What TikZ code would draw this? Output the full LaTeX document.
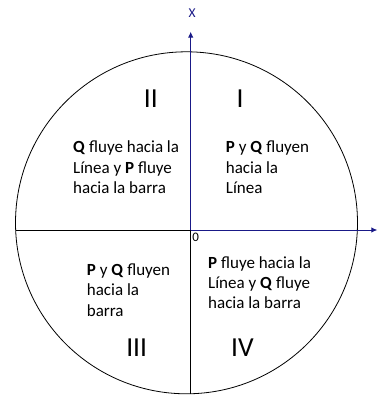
\documentclass[tikz,border=0pt]{standalone}
\usepackage{fontspec}
\setmainfont{Carlito}
\usetikzlibrary{arrows.meta}
\definecolor{axisblue}{RGB}{25,25,135}
\newcommand{\qtext}[1]{\begin{tabular}[t]{@{}l@{}}#1\end{tabular}}
\begin{document}
\begin{tikzpicture}[x=1pt,y=-1pt,
  desc/.style={inner sep=0pt,anchor=base west,font=\fontsize{17}{20.3}\selectfont},
  roman/.style={inner sep=0pt,anchor=base,font=\fontsize{27.5}{30}\selectfont},
  thinline/.style={line width=0.8pt,black},
  axis/.style={line width=0.9pt,axisblue,-{Latex[length=6pt,width=5.5pt]}}]
\useasboundingbox (0,0) rectangle (384,396);
\coordinate (c) at (186.5,222.8);
\coordinate (O) at (190.7,230);
\coordinate (xtop) at (190.7,31.7);
\coordinate (xright) at (377.3,230);
\coordinate (xleft) at (15.6,230);
\coordinate (xbottom) at (190.7,393.8);
\draw[thinline] (c) circle [radius=171pt];
\draw[thinline] (xleft) -- (O);
\draw[thinline] (O) -- (xbottom);
\draw[axis] (O) -- (xtop);
\draw[axis] (O) -- (xright);
\node[inner sep=0pt,anchor=base,text=axisblue,font=\fontsize{13.5}{15}\selectfont] (xlab) at (192.2,17.7) {X};
\node[inner sep=0pt,anchor=base west,font=\fontsize{13}{15}\selectfont] (zero) at (192.2,241.7) {0};
\node[roman] (r2) at (150.8,107.7) {II};
\node[roman] (r1) at (240.2,107.7) {I};
\node[roman] (r3) at (136.7,356.7) {III};
\node[roman] (r4) at (242.5,356.7) {IV};
\node[desc] (t2) at (73,152.7) {\qtext{\textbf{Q} fluye hacia la\\Línea y \textbf{P} fluye\\hacia la barra}};
\node[desc] (t1) at (225.7,152.7) {\qtext{\textbf{P} y \textbf{Q} fluyen\\hacia la\\Línea}};
\node[desc] (t3) at (86.7,275.5) {\qtext{\textbf{P} y \textbf{Q} fluyen\\hacia la\\barra}};
\node[desc] (t4) at (208,268.3) {\qtext{\textbf{P} fluye hacia la\\Línea y \textbf{Q} fluye\\hacia la barra}};
\end{tikzpicture}
\end{document}
